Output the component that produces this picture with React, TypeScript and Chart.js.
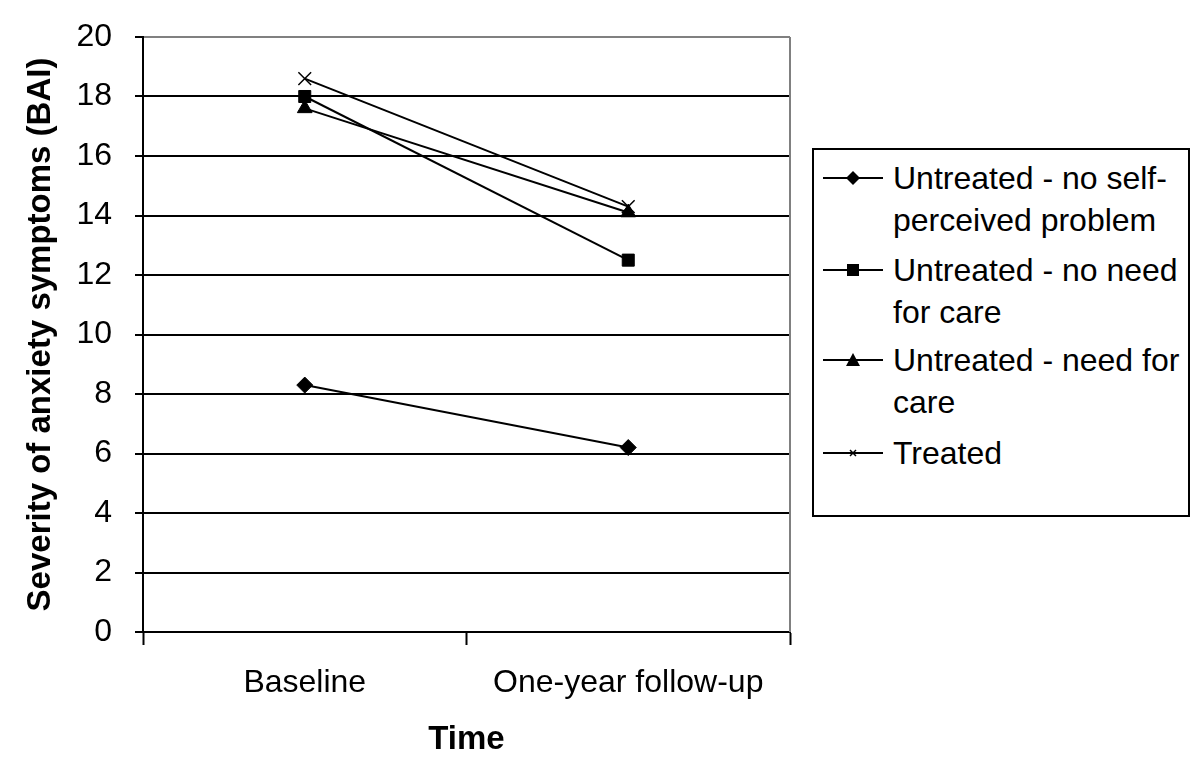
import React, { useEffect, useRef } from "react";
import { Chart, registerables } from "chart.js";

Chart.register(...registerables);

const categories = ["Baseline", "One-year follow-up"];
const seriesNames = [
  ["Untreated - no self-", "perceived problem"],
  ["Untreated - no need", "for care"],
  ["Untreated - need for", "care"],
  ["Treated"],
];
const noSelfPerceived = [8.3, 6.2];
const noNeedForCare = [18.0, 12.5];
const needForCare = [17.6, 14.1];
const treated = [18.6, 14.3];
const yTicks = [0, 2, 4, 6, 8, 10, 12, 14, 16, 18, 20];

const FONT = '"Liberation Sans", Arial, sans-serif';

const frameBorder = {
  id: "frameBorder",
  afterDraw(chart: any) {
    const { ctx, chartArea } = chart;
    ctx.save();
    ctx.strokeStyle = "#808080";
    ctx.lineWidth = 2;
    ctx.beginPath();
    ctx.moveTo(chartArea.right, chartArea.top);
    ctx.lineTo(chartArea.right, chartArea.bottom);
    ctx.stroke();
    ctx.restore();
  },
};

function Marker({ kind }: { kind: number }) {
  let shape: any = null;
  if (kind === 0) shape = <polygon points="30,14 37,21 30,28 23,21" fill="#000" />;
  if (kind === 1) shape = <rect x={24} y={15} width={12} height={12} fill="#000" />;
  if (kind === 2) shape = <polygon points="30,14 37,27 23,27" fill="#000" />;
  if (kind === 3)
    shape = (
      <g stroke="#000" strokeWidth={1.5}>
        <line x1={27} y1={18} x2={33} y2={24} />
        <line x1={33} y1={18} x2={27} y2={24} />
      </g>
    );
  return (
    <svg width={60} height={42} style={{ position: "absolute", left: 0, top: 0 }}>
      <line x1={0} y1={21} x2={60} y2={21} stroke="#000" strokeWidth={2} />
      {shape}
    </svg>
  );
}

export default function App() {
  const ref = useRef<HTMLCanvasElement | null>(null);

  useEffect(() => {
    document.body.style.margin = "0";
    const canvas = ref.current;
    if (!canvas) return;
    const mk = (label: string, data: number[], style: any, radius: number) => ({
      label,
      data,
      borderColor: "#000",
      backgroundColor: "#000",
      borderWidth: 2,
      pointStyle: style,
      pointRadius: radius,
      pointBorderWidth: style === "crossRot" ? 1.5 : 1,
      pointBackgroundColor: "#000",
      pointBorderColor: "#000",
      fill: false,
      tension: 0,
    });
    const chart = new Chart(canvas, {
      type: "line",
      data: {
        labels: categories,
        datasets: [
          mk(seriesNames[0].join(" "), noSelfPerceived, "rectRot", 8),
          mk(seriesNames[1].join(" "), noNeedForCare, "rect", 8.5),
          mk(seriesNames[2].join(" "), needForCare, "triangle", 8.5),
          mk(seriesNames[3].join(" "), treated, "crossRot", 9),
        ],
      },
      options: {
        responsive: false,
        animation: false,
        layout: { padding: { top: 37, right: 410, left: 0, bottom: 0 } },
        plugins: {
          legend: { display: false },
          tooltip: { enabled: false },
          title: { display: false },
        },
        scales: {
          x: {
            type: "category",
            offset: true,
            grid: {
              offset: true,
              drawOnChartArea: false,
              drawTicks: true,
              tickLength: 13,
              tickColor: "#000",
              tickWidth: 2,
              color: "#000",
            },
            border: { color: "#000", width: 2 },
            ticks: {
              color: "#000",
              font: { family: FONT, size: 32 },
              padding: 19,
              maxRotation: 0,
            },
            title: {
              display: true,
              text: "Time",
              color: "#000",
              font: { family: FONT, size: 33, weight: "bold" },
              padding: { top: 0, bottom: 8 },
            },
            afterFit(scale: any) {
              scale.height = 136;
              scale.paddingLeft = 0;
              scale.paddingRight = 0;
            },
          },
          y: {
            min: 0,
            max: 20,
            afterBuildTicks(scale: any) {
              scale.ticks = yTicks.map((v) => ({ value: v }));
            },
            grid: {
              color: (c: any) => (c.tick && c.tick.value === 20 ? "#808080" : "#000"),
              lineWidth: 2,
              tickLength: 8,
              tickColor: "#000",
              tickWidth: 2,
            },
            border: { color: "#000", width: 2 },
            ticks: {
              color: "#000",
              font: { family: FONT, size: 32 },
              padding: 23,
            },
            title: {
              display: true,
              text: "Severity of anxiety symptoms (BAI)",
              color: "#000",
              font: { family: FONT, size: 33, weight: "bold" },
              padding: { top: 21, bottom: 0 },
            },
            afterFit(scale: any) {
              scale.width = 143;
              scale.paddingTop = 0;
              scale.paddingBottom = 0;
            },
          },
        },
      },
      plugins: [frameBorder],
    } as any);
    return () => chart.destroy();
  }, []);

  const entryTops = [157, 249, 339, 432];

  return (
    <div style={{ position: "relative", width: 1200, height: 768, background: "#fff" }}>
      <canvas ref={ref} width={1200} height={768} style={{ display: "block" }} />
      <div
        style={{
          position: "absolute",
          left: 812,
          top: 148,
          width: 374,
          height: 365,
          border: "2px solid #000",
          background: "#fff",
        }}
      />
      {seriesNames.map((lines, i) => (
        <div
          key={i}
          style={{
            position: "absolute",
            left: 823,
            top: entryTops[i],
            fontFamily: FONT,
            fontSize: 32,
            lineHeight: "42px",
            color: "#000",
          }}
        >
          <Marker kind={i} />
          <div style={{ marginLeft: 70, whiteSpace: "nowrap" }}>
            {lines.map((t, j) => (
              <div key={j}>{t}</div>
            ))}
          </div>
        </div>
      ))}
    </div>
  );
}
